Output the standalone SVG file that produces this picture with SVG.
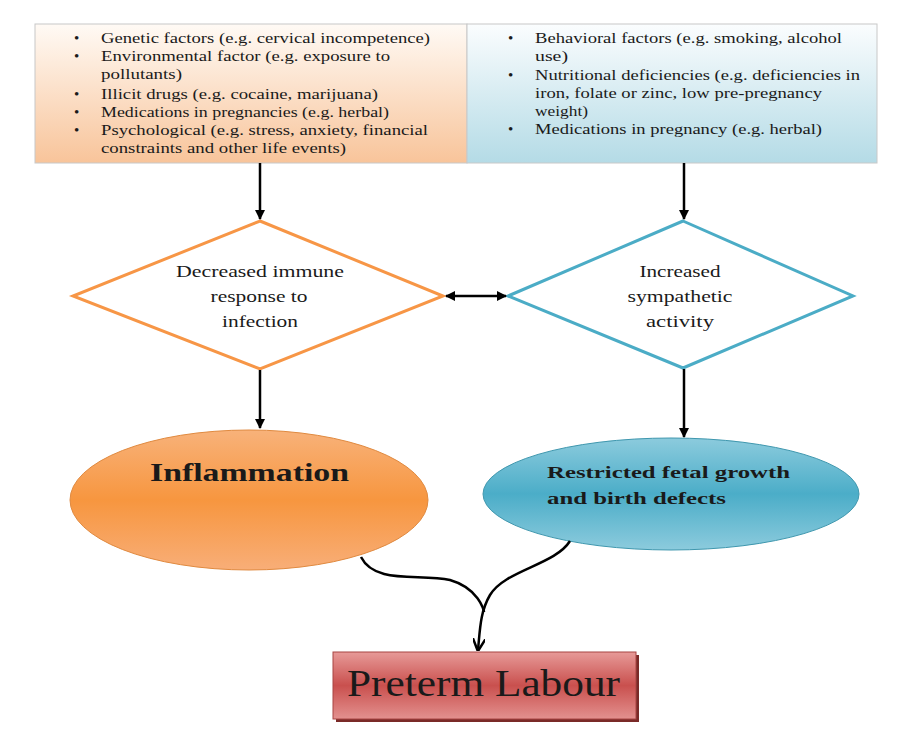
<svg xmlns="http://www.w3.org/2000/svg" width="906" height="741" viewBox="0 0 906 741">
<style>
text{font-family:"Liberation Serif","Times New Roman","DejaVu Serif",serif;fill:#1a1a1a}
.t{font-size:15px}
.d{font-size:16px;text-anchor:middle}
.b{font-weight:bold}
.c{stroke:#000;stroke-width:2.5;fill:none}
</style>
<defs>
<linearGradient id="gO" x1="0" y1="0" x2="0" y2="1"><stop offset="0" stop-color="#fffaf5"/><stop offset="1" stop-color="#f8c49a"/></linearGradient>
<linearGradient id="gB" x1="0" y1="0" x2="0" y2="1"><stop offset="0" stop-color="#fbfdfe"/><stop offset="1" stop-color="#b4dbe6"/></linearGradient>
<linearGradient id="eO" x1="0" y1="0" x2="0" y2="1"><stop offset="0" stop-color="#f8b27a"/><stop offset="0.5" stop-color="#f7963f"/><stop offset="1" stop-color="#f8ae78"/></linearGradient>
<linearGradient id="eB" x1="0" y1="0" x2="0" y2="1"><stop offset="0" stop-color="#8ccbdd"/><stop offset="0.5" stop-color="#4badc8"/><stop offset="1" stop-color="#8ccbdd"/></linearGradient>
<linearGradient id="gR" x1="0" y1="0" x2="0" y2="1"><stop offset="0" stop-color="#e79a98"/><stop offset="0.5" stop-color="#c9504e"/><stop offset="1" stop-color="#e3918f"/></linearGradient>
<marker id="ah" viewBox="0 0 10 10" refX="9" refY="5" markerWidth="4" markerHeight="4" orient="auto-start-reverse"><path d="M0,0 L10,5 L0,10 z" fill="#000"/></marker>
<marker id="ao" viewBox="0 0 10 10" refX="9" refY="5" markerWidth="5" markerHeight="5" orient="auto"><path d="M0,0 L10,5 L0,10" fill="none" stroke="#000" stroke-width="2"/></marker>
</defs>
<rect width="906" height="741" fill="#fff"/>
<g id="box-left">
<rect x="35" y="24" width="432" height="139" fill="url(#gO)" stroke="#c8c8c8" stroke-width="1"/>
<text class="t" x="74" y="43">•</text><text class="t" x="101" y="43" textLength="329" lengthAdjust="spacingAndGlyphs">Genetic factors (e.g. cervical incompetence)</text>
<text class="t" x="74" y="61">•</text><text class="t" x="101" y="61" textLength="289" lengthAdjust="spacingAndGlyphs">Environmental factor (e.g. exposure to</text>
<text class="t" x="101" y="79" textLength="81" lengthAdjust="spacingAndGlyphs">pollutants)</text>
<text class="t" x="74" y="99">•</text><text class="t" x="101" y="99" textLength="277" lengthAdjust="spacingAndGlyphs">Illicit drugs (e.g. cocaine, marijuana)</text>
<text class="t" x="74" y="117">•</text><text class="t" x="101" y="117" textLength="288" lengthAdjust="spacingAndGlyphs">Medications in pregnancies (e.g. herbal)</text>
<text class="t" x="74" y="135">•</text><text class="t" x="101" y="135" textLength="327" lengthAdjust="spacingAndGlyphs">Psychological (e.g. stress, anxiety, financial</text>
<text class="t" x="101" y="153" textLength="245" lengthAdjust="spacingAndGlyphs">constraints and other life events)</text>
</g>
<g id="box-right">
<rect x="467" y="24" width="410" height="139" fill="url(#gB)" stroke="#c8c8c8" stroke-width="1"/>
<text class="t" x="508" y="43">•</text><text class="t" x="535" y="43" textLength="307" lengthAdjust="spacingAndGlyphs">Behavioral factors (e.g. smoking, alcohol</text>
<text class="t" x="535" y="61" textLength="33" lengthAdjust="spacingAndGlyphs">use)</text>
<text class="t" x="508" y="80">•</text><text class="t" x="535" y="80" textLength="325" lengthAdjust="spacingAndGlyphs">Nutritional deficiencies (e.g. deficiencies in</text>
<text class="t" x="535" y="98" textLength="287" lengthAdjust="spacingAndGlyphs">iron, folate or zinc, low pre-pregnancy</text>
<text class="t" x="535" y="116" textLength="53" lengthAdjust="spacingAndGlyphs">weight)</text>
<text class="t" x="508" y="134">•</text><text class="t" x="535" y="134" textLength="287" lengthAdjust="spacingAndGlyphs">Medications in pregnancy (e.g. herbal)</text>
</g>
<g id="diamond-left">
<polygon points="260,221 443,296 260,369 73,296" fill="#fff" stroke="#f79646" stroke-width="3"/>
<text class="d" x="260" y="277" textLength="168" lengthAdjust="spacingAndGlyphs">Decreased immune</text>
<text class="d" x="259" y="302" textLength="97" lengthAdjust="spacingAndGlyphs">response to</text>
<text class="d" x="260" y="327" textLength="76" lengthAdjust="spacingAndGlyphs">infection</text>
</g>
<g id="diamond-right">
<polygon points="683,221 853,296 683,368 508,296" fill="#fff" stroke="#4bacc6" stroke-width="3"/>
<text class="d" x="680" y="277" textLength="81" lengthAdjust="spacingAndGlyphs">Increased</text>
<text class="d" x="680" y="302" textLength="105" lengthAdjust="spacingAndGlyphs">sympathetic</text>
<text class="d" x="680" y="327" textLength="68" lengthAdjust="spacingAndGlyphs">activity</text>
</g>
<g id="inflammation">
<ellipse cx="249" cy="500" rx="179" ry="70" fill="url(#eO)" stroke="#e08a40" stroke-width="1"/>
<text class="b" x="150" y="481" font-size="26" textLength="199" lengthAdjust="spacingAndGlyphs">Inflammation</text>
</g>
<g id="restricted">
<ellipse cx="671" cy="494" rx="188" ry="56" fill="url(#eB)" stroke="#3f97ae" stroke-width="1"/>
<text class="b" x="547" y="478" font-size="17" textLength="243" lengthAdjust="spacingAndGlyphs">Restricted fetal growth</text>
<text class="b" x="547" y="504" font-size="17" textLength="179" lengthAdjust="spacingAndGlyphs">and birth defects</text>
</g>
<g id="preterm">
<rect x="336" y="655" width="303" height="67" fill="#7a2a28"/>
<rect x="333" y="652" width="303" height="67" fill="url(#gR)" stroke="#a84543" stroke-width="1"/>
<text x="347" y="696" font-size="37" textLength="273" lengthAdjust="spacingAndGlyphs">Preterm Labour</text>
</g>
<g id="connectors">
<line class="c" x1="260" y1="163" x2="260" y2="219" marker-end="url(#ah)"/>
<line class="c" x1="684" y1="163" x2="684" y2="219" marker-end="url(#ah)"/>
<line class="c" x1="446" y1="296" x2="506" y2="296" marker-start="url(#ah)" marker-end="url(#ah)"/>
<line class="c" x1="260" y1="370" x2="260" y2="428" marker-end="url(#ah)"/>
<line class="c" x1="684" y1="369" x2="684" y2="437" marker-end="url(#ah)"/>
<path class="c" d="M361,557 C375,585 420,573 450,580 C478,588 484,610 484,612"/>
<path class="c" d="M570,541 C555,565 505,570 490,595 C480,612 480,630 478,650" marker-end="url(#ao)"/>
</g>
</svg>
